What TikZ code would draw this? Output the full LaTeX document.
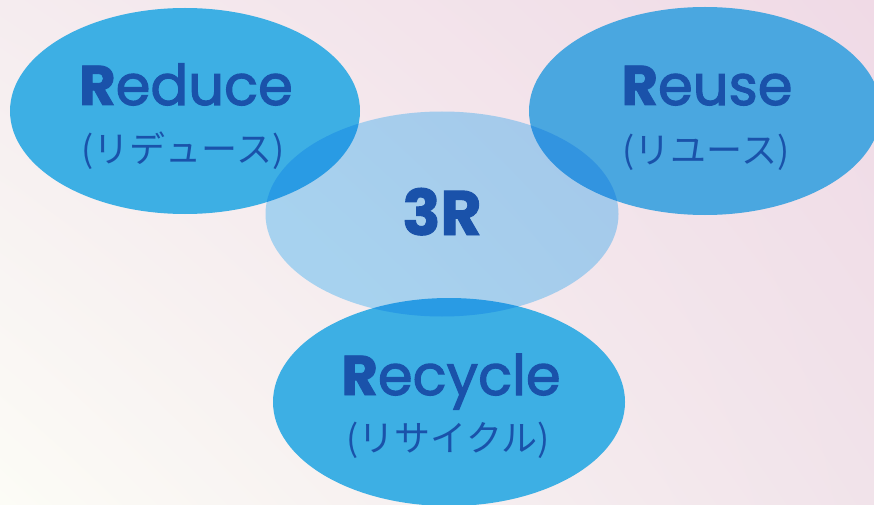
\documentclass[tikz,border=0pt]{standalone}
\usepackage{fontspec}
\usetikzlibrary{shapes.geometric,shadings}
\newfontfamily\popfont{Poppins}[FakeBold=2]
\newfontfamily\popheavy{Poppins}[UprightFont=*,BoldFont=* Bold,BoldFeatures={FakeBold=1.5}]
\newfontfamily\jpfont{Noto Sans CJK JP}
\definecolor{bgUL}{HTML}{F5ECEF}
\definecolor{bgUR}{HTML}{F0DAE6}
\definecolor{bgLL}{HTML}{FCFCF6}
\definecolor{bgLR}{HTML}{F1E3EA}
\definecolor{blueA}{HTML}{3DAFE4}
\definecolor{blueB}{HTML}{4AA7E0}
\definecolor{threeC}{HTML}{AEE3FF}
\definecolor{txt}{HTML}{1A52AA}
\begin{document}
\begin{tikzpicture}[x=1pt,y=-1pt,
  bubble/.style={ellipse, inner sep=0pt, draw=none, fill=#1},
  title/.style={text=txt, anchor=base, inner sep=0pt},
  sub/.style={text=txt, anchor=center, inner sep=0pt, font=\jpfont\fontsize{36}{36}\selectfont}]
\useasboundingbox (0,0) rectangle (874,505);
\shade[upper left=bgUL, upper right=bgUR, lower left=bgLL, lower right=bgLR] (0,0) rectangle (874,505);
% bubbles
\node[bubble=blueA, minimum width=350pt, minimum height=206pt] (reduce) at (185,111) {};
\node[bubble=blueB, minimum width=352pt, minimum height=208pt] (reuse) at (705,111) {};
\node[bubble=blueA, minimum width=352pt, minimum height=208pt] (recycle) at (449,402) {};
\node[bubble=threeC, blend mode=multiply, minimum width=353pt, minimum height=205pt] (three) at (442,214) {};
% titles
\node[title, font=\fontsize{56}{56}\selectfont] (reduceT) at (186,105) {{\popheavy\bfseries R}{\popfont educe}};
\node[title, font=\fontsize{56}{56}\selectfont] (reuseT) at (707,105) {{\popheavy\bfseries R}{\popfont euse}};
\node[title, font=\fontsize{56}{56}\selectfont] (recycleT) at (451,395) {{\popheavy\bfseries R}{\popfont ecycle}};
\node[title, font=\popheavy\bfseries\fontsize{63}{63}\selectfont] (threeT) at (442,235) {3R};
% japanese
\node[sub] (reduceJ) at (183,151) {(リデュース)};
\node[sub] (reuseJ) at (706,152) {(リユース)};
\node[sub] (recycleJ) at (448,440) {(リサイクル)};
\end{tikzpicture}
\end{document}
